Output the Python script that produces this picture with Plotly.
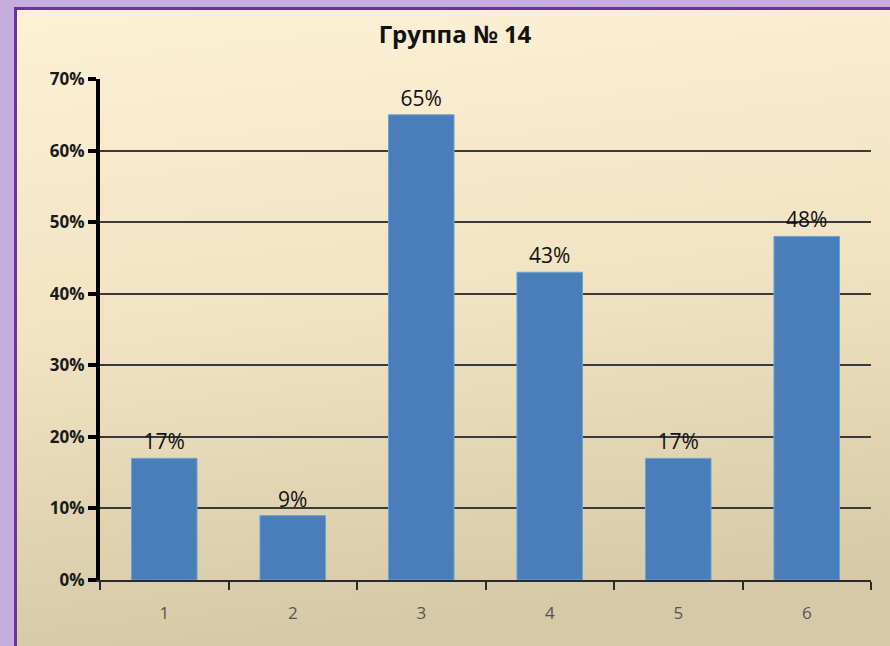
import base64
import plotly.graph_objects as go

categories = ["1", "2", "3", "4", "5", "6"]
values = [0.17, 0.09, 0.65, 0.43, 0.17, 0.48]
title_text = "Группа № 14"

W, H = 890, 646
L, R, T, B = 100, 19, 79, 66

# background: light purple frame, dark purple edge, cream-to-tan gradient panel
svg = f"""<svg xmlns="http://www.w3.org/2000/svg" width="{W}" height="{H}" viewBox="0 0 {W} {H}" preserveAspectRatio="none">
<defs><linearGradient id="g" x1="0" y1="0" x2="0.15" y2="1">
<stop offset="0" stop-color="#FDF1D6"/><stop offset="0.5" stop-color="#F1E3C3"/><stop offset="1" stop-color="#D6C9A7"/>
</linearGradient></defs>
<rect width="{W}" height="{H}" fill="#C4AFDC"/>
<rect x="14" y="7" width="{W}" height="{H}" fill="#7030A0"/>
<rect x="17" y="10" width="{W}" height="{H}" fill="url(#g)"/>
</svg>"""
src = "data:image/svg+xml;base64," + base64.b64encode(svg.encode()).decode()

pw, ph = W - L - R, H - T - B

fig = go.Figure(go.Bar(
    x=categories, y=values,
    marker=dict(color="#4A7EBB", line=dict(color="#6BA3D6", width=1)),
    texttemplate="%{y:.0%}", textposition="outside", cliponaxis=False,
    textfont=dict(family="Open Sans", size=21, color="#111111"),
))

fig.update_layout(
    width=W, height=H,
    margin=dict(l=L, r=R, t=T, b=B),
    paper_bgcolor="#C4AFDC", plot_bgcolor="rgba(0,0,0,0)",
    bargap=0.49, showlegend=False,
    title=dict(text=f"<b>{title_text}</b>", x=455 / W, xanchor="center",
               y=1 - 35 / H, yanchor="middle", xref="container", yref="container",
               font=dict(family="Open Sans", size=24, color="#111111")),
    images=[dict(source=src, xref="paper", yref="paper",
                 x=-L / pw, y=(H - B) / ph, sizex=W / pw, sizey=H / ph,
                 xanchor="left", yanchor="top", sizing="stretch", layer="below")],
)
fig.update_yaxes(range=[0, 0.7], dtick=0.1, tickformat=".0%",
                 showgrid=True, gridcolor="#3A3A3A", gridwidth=1.5, zeroline=False,
                 showline=True, linecolor="#000000", linewidth=4,
                 ticks="outside", ticklen=8, tickwidth=4, tickcolor="#000000",
                 tickfont=dict(family="Open Sans", size=17, color="#1A1A1A", weight="bold"))
fig.update_xaxes(showline=True, linecolor="#2A2A2A", linewidth=2,
                 ticks="outside", tickson="boundaries", ticklen=8, tickwidth=2, tickcolor="#2A2A2A",
                 tickfont=dict(family="Open Sans", size=17, color="#555555"),
                 ticklabelstandoff=17)

fig.write_html("out.html", config={"displayModeBar": False},
               post_script="document.body.style.margin='0';document.body.style.overflow='hidden';")
